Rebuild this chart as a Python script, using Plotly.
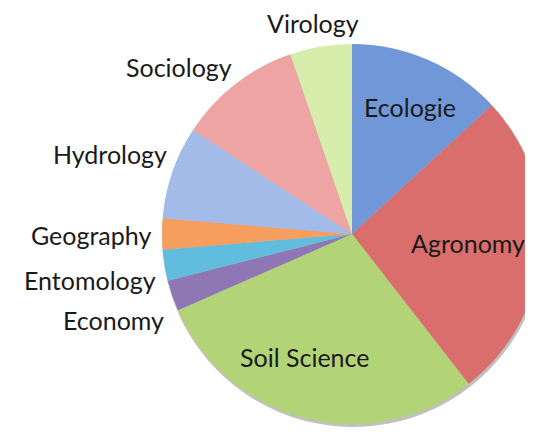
import plotly.graph_objects as go

categories = ["Ecologie", "Agronomy", "Soil Science", "Economy", "Entomology",
              "Geography", "Hydrology", "Sociology", "Virology"]
counts = [5, 10, 11, 1, 1, 1, 3, 4, 2]
colors = ["#7098D8", "#D96E6C", "#B3D476", "#8F77B6", "#60BDDE",
          "#F59E5E", "#A2BBE9", "#EDA4A3", "#D7EDAB"]

# The page body has an 8px margin; the figure is wider than the window so
# the right part of the pie is cropped, as in the reference.
OFF = 8
W, H = 560, 440

# label placement in page pixels (anchor x, middle y), x-anchor
label_pos = {
    "Ecologie": (410, 107, "center"),
    "Agronomy": (468, 243, "center"),
    "Soil Science": (304, 357, "center"),
    "Economy": (165, 320, "right"),
    "Entomology": (157, 280, "right"),
    "Geography": (152, 235, "right"),
    "Hydrology": (168, 154, "right"),
    "Sociology": (233, 67, "right"),
    "Virology": (313, 23, "center"),
}


def dom(cx, cy, r):
    x0, y0 = cx - OFF, cy - OFF
    return dict(x=[(x0 - r) / W, (x0 + r) / W],
                y=[(H - y0 - r) / H, (H - y0 + r) / H])


fig = go.Figure()
# soft shadow behind the pie
fig.add_trace(go.Pie(
    labels=["shadow"], values=[sum(counts)], sort=False,
    marker=dict(colors=["rgba(140,140,140,0.55)"], line=dict(width=0)),
    textinfo="none", hoverinfo="skip", showlegend=False,
    domain=dom(353, 236, 191),
))
fig.add_trace(go.Pie(
    labels=categories,
    values=counts,
    sort=False,
    direction="clockwise",
    rotation=0,
    marker=dict(colors=colors, line=dict(width=0)),
    textinfo="none",
    hoverinfo="label+value",
    showlegend=False,
    domain=dom(352, 234, 190),
))

for name in categories:
    px, py, anchor = label_pos[name]
    fig.add_annotation(
        x=(px - OFF) / W, y=1 - (py - OFF) / H, xref="paper", yref="paper",
        text=name, showarrow=False, xanchor=anchor, yanchor="middle",
        borderpad=0,
        font=dict(family="Lato", size=25, color="#1a1a1a"),
    )

fig.update_layout(
    width=W, height=H,
    margin=dict(l=0, r=0, t=0, b=0),
    paper_bgcolor="white", plot_bgcolor="white",
)
fig.write_html("out.html")
